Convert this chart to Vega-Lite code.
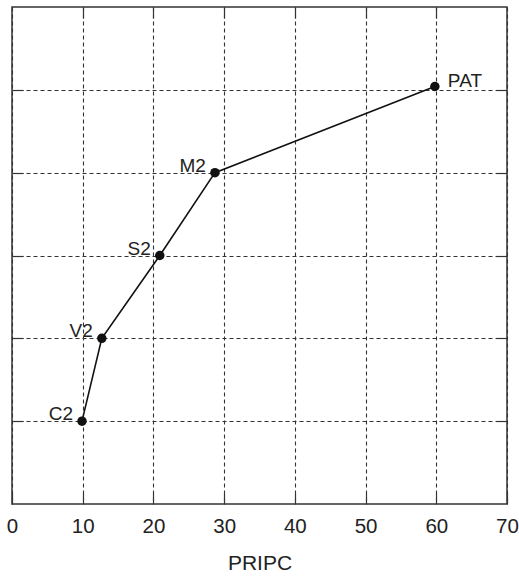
{
  "$schema": "https://vega.github.io/schema/vega-lite/v6.json",
  "width": 495,
  "height": 497,
  "autosize": {"type": "none"},
  "padding": {"left": 12, "top": 7, "right": 12, "bottom": 72},
  "background": "white",
  "config": {
    "view": {"stroke": "#333", "strokeWidth": 1.5},
    "font": "Liberation Sans"
  },
  "data": {
    "values": [
      {"PRIPC": 9.9, "level": 1, "name": "C2", "side": "left"},
      {"PRIPC": 12.7, "level": 2, "name": "V2", "side": "left"},
      {"PRIPC": 20.9, "level": 3, "name": "S2", "side": "left"},
      {"PRIPC": 28.7, "level": 4, "name": "M2", "side": "left"},
      {"PRIPC": 59.8, "level": 5.04, "name": "PAT", "side": "right"}
    ]
  },
  "layer": [
    {
      "mark": {"type": "line", "color": "#111", "strokeWidth": 1.6},
      "encoding": {
        "x": {
          "field": "PRIPC",
          "type": "quantitative",
          "scale": {"domain": [0, 70], "nice": false, "zero": false},
          "axis": {"orient": "bottom", "values": [0, 10, 20, 30, 40, 50, 60, 70], "labelPadding": 23, "title": "PRIPC", "titlePadding": 16, "grid": true, "gridColor": "#333", "gridDash": [4, 3], "gridWidth": 1.1, "domain": false, "tickColor": "#333", "tickWidth": 1.2, "tickSize": -11, "labelFont": "Liberation Sans", "labelFontSize": 20.5, "labelColor": "#222", "titleFont": "Liberation Sans", "titleFontSize": 21, "titleFontWeight": "normal", "titleColor": "#222", "labelFlush": false}
        },
        "y": {
          "field": "level",
          "type": "quantitative",
          "scale": {"domain": [0, 6], "nice": false, "zero": false},
          "axis": {"orient": "left", "values": [1, 2, 3, 4, 5], "labels": false, "title": null, "grid": true, "gridColor": "#333", "gridDash": [4, 3], "gridWidth": 1.1, "domain": false, "tickColor": "#333", "tickWidth": 1.2, "tickSize": -11}
        }
      }
    },
    {
      "mark": {"type": "point", "filled": true, "color": "#111", "size": 90, "opacity": 1},
      "encoding": {
        "x": {"field": "PRIPC", "type": "quantitative", "axis": null},
        "y": {"field": "level", "type": "quantitative", "axis": null}
      }
    },
    {
      "transform": [{"filter": "datum.side === 'left'"}],
      "mark": {"type": "text", "align": "right", "baseline": "middle", "dx": -9, "dy": -7, "fontSize": 19, "font": "Liberation Sans", "color": "#222"},
      "encoding": {
        "x": {"field": "PRIPC", "type": "quantitative", "axis": null},
        "y": {"field": "level", "type": "quantitative", "axis": null},
        "text": {"field": "name"}
      }
    },
    {
      "transform": [{"filter": "datum.side === 'right'"}],
      "mark": {"type": "text", "align": "left", "baseline": "middle", "dx": 13, "dy": -6, "fontSize": 19, "font": "Liberation Sans", "color": "#222"},
      "encoding": {
        "x": {"field": "PRIPC", "type": "quantitative", "axis": null},
        "y": {"field": "level", "type": "quantitative", "axis": null},
        "text": {"field": "name"}
      }
    },
    {
      "mark": {"type": "point", "opacity": 0},
      "encoding": {
        "x": {
          "field": "PRIPC",
          "type": "quantitative",
          "axis": {"orient": "top", "values": [10, 20, 30, 40, 50, 60], "labels": false, "title": null, "grid": false, "domain": false, "tickColor": "#333", "tickWidth": 1.2, "tickSize": -11}
        },
        "y": {
          "field": "level",
          "type": "quantitative",
          "axis": {"orient": "right", "values": [1, 2, 3, 4, 5], "labels": false, "title": null, "grid": false, "domain": false, "tickColor": "#333", "tickWidth": 1.2, "tickSize": -11}
        }
      }
    }
  ],
  "resolve": {"axis": {"x": "independent", "y": "independent"}}
}
